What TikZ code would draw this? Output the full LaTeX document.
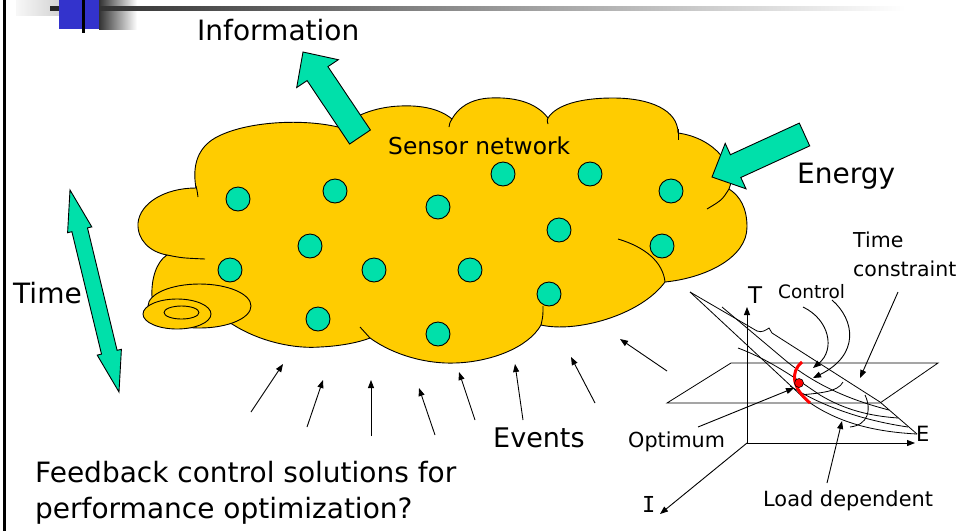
\documentclass[tikz,border=0pt]{standalone}
\usepackage{fontspec}
\setmainfont{DejaVu Sans}
\newfontfamily\axisfont{DejaVu Sans Mono}
\usetikzlibrary{arrows.meta}
\definecolor{cloudfill}{RGB}{255,204,0}
\definecolor{sensorteal}{RGB}{0,224,170}
\definecolor{slideblue}{RGB}{51,51,204}
\begin{document}
\begin{tikzpicture}[x=1pt,y=-1pt,
  cloudpart/.style={fill=cloudfill,draw=black,line width=0.9pt,line join=round},
  crease/.style={draw=black,line width=0.9pt},
  sensor/.style={circle,fill=sensorteal,draw=black,line width=0.9pt,minimum size=24pt,inner sep=0pt},
  bigarrow/.style={fill=sensorteal,draw=black,line width=0.9pt,line join=miter},
  thinarrow/.style={draw=black,line width=0.9pt,-{Triangle[length=8pt,width=6pt]}},
  graphline/.style={draw=black,line width=0.8pt},
  txt/.style={inner sep=0pt,anchor=base west},
  bigtext/.style={txt,font=\fontsize{28}{36}\selectfont},
  smalltext/.style={txt,font=\fontsize{20.5}{29}\selectfont},
]
\useasboundingbox (0,0) rectangle (960,531);
\fill[white] (0,0) rectangle (960,531);

% slide frame: corner ornament, title rule and left border
\shade[left color=black!3, right color=black!22] (16,0) rectangle (75,15);
\shade[left color=black!80, right color=white] (99,0) rectangle (137,29);
\shade[left color=black!85, middle color=black!60, right color=white] (50,6.5) rectangle (905,10);
\fill[slideblue] (59,0) rectangle (99,29);
\fill[black] (81.5,0) rectangle (84.5,33);
\fill[black] (3,0) rectangle (6,531);

% the sensor-network cloud
\path[cloudpart] (196,188)
 .. controls (165,188) and (140,203) .. (138,223)
 .. controls (137,240) and (150,252) .. (167,255)
 .. controls (156,262) and (151,280) .. (152,297)
 -- (232,324)
 .. controls (260,342) and (295,349) .. (320,347)
 .. controls (342,346) and (360,342) .. (370,338)
 .. controls (395,356) and (428,364) .. (455,363)
 .. controls (490,362) and (528,348) .. (541,325)
 .. controls (575,333) and (640,316) .. (665,282)
 .. controls (705,278) and (747,258) .. (747,227)
 .. controls (747,208) and (740,196) .. (729,189)
 .. controls (738,168) and (715,138) .. (678,133)
 .. controls (678,110) and (650,98) .. (613,98)
 .. controls (580,98) and (556,105) .. (548,118)
 .. controls (535,101) and (512,97) .. (490,98)
 .. controls (470,99) and (458,108) .. (452,119)
 .. controls (440,109) and (422,105) .. (400,106)
 .. controls (375,107) and (352,116) .. (342,128)
 .. controls (305,118) and (245,121) .. (215,138)
 .. controls (198,148) and (192,165) .. (196,188)
 -- cycle;
% inner ends of the cloud bumps
\draw[crease] (196,186) .. controls (197,190) .. (198,197);
\draw[crease] (167,255) .. controls (182,258) .. (205,259);
\draw[crease] (452,119) .. controls (450,122) .. (449,127);
\draw[crease] (548,118) .. controls (547,120) .. (548,124);
\draw[crease] (678,129) -- (678,140);
\draw[crease] (729,189) .. controls (722,200) .. (707,209);
\draw[crease] (618,239) .. controls (645,247) and (663,262) .. (665,282);
\draw[crease] (543,306) .. controls (543,316) .. (541,325);
\draw[crease] (360,327) .. controls (365,332) .. (370,338);

% rolled-up edge of the cloud
\draw[cloudpart] (199.5,306) ellipse [x radius=51.5, y radius=22];
\draw[cloudpart] (177,314) ellipse [x radius=34, y radius=15];
\draw[cloudpart] (181.5,312.5) ellipse [x radius=17.5, y radius=6.5];

% sensors
\node[sensor] (s1) at (238,199) {};
\node[sensor] (s2) at (335,191) {};
\node[sensor] (s3) at (438,207) {};
\node[sensor] (s4) at (503,174) {};
\node[sensor] (s5) at (590,174) {};
\node[sensor] (s6) at (671,191) {};
\node[sensor] (s7) at (310,246) {};
\node[sensor] (s8) at (559,230) {};
\node[sensor] (s9) at (662,246) {};
\node[sensor] (s10) at (230,270) {};
\node[sensor] (s11) at (374,270) {};
\node[sensor] (s12) at (470,270) {};
\node[sensor] (s13) at (549,294) {};
\node[sensor] (s14) at (318,319) {};
\node[sensor] (s15) at (438,334) {};

% block arrows: information out, energy in, time both ways
\draw[bigarrow] (370.4,130.0) -- (327.9,66.6) -- (338.3,59.7) -- (303,52)
  -- (296.7,87.5) -- (307.1,80.6) -- (349.6,144.0) -- cycle;
\draw[bigarrow] (809.7,145.9) -- (740.8,177.5) -- (746.0,188.8) -- (712,177)
  -- (725.2,143.4) -- (730.4,154.7) -- (799.3,123.1) -- cycle;
\draw[bigarrow] (70,190) -- (91.8,226.9) -- (87.5,227.9) -- (117.1,350.3)
  -- (121.4,349.3) -- (119,392) -- (97.2,355.1) -- (101.5,354.1)
  -- (71.9,231.7) -- (67.6,232.7) -- cycle;

% labels
\node[bigtext] (info) at (197,40) {Information};
\node[txt,font=\fontsize{23.3}{28}\selectfont] (net) at (388,154) {Sensor network};
\node[bigtext] (energy) at (797,183) {Energy};
\node[bigtext] (time) at (13,303) {Time};
\node[txt,font=\fontsize{27}{34}\selectfont] (events) at (493,447) {Events};
\node[bigtext] (q1) at (35,482) {Feedback control solutions for};
\node[bigtext] (q2) at (35,518) {performance optimization?};

% incoming events
\coordinate (ea1) at (251,412); \coordinate (eb1) at (283,364);
\coordinate (ea2) at (307,427); \coordinate (eb2) at (323,380);
\coordinate (ea3) at (371,436); \coordinate (eb3) at (371,380);
\coordinate (ea4) at (435,435); \coordinate (eb4) at (419,388);
\coordinate (ea5) at (475,420); \coordinate (eb5) at (459,372);
\coordinate (ea6) at (523,420); \coordinate (eb6) at (515,364);
\coordinate (ea7) at (595,403); \coordinate (eb7) at (571,357);
\coordinate (ea8) at (667,371); \coordinate (eb8) at (620,339);
\foreach \k in {1,...,8} \draw[thinarrow] (ea\k) -- (eb\k);

% trade-off chart: axes
\coordinate (origin) at (747,443);
\coordinate (taxis) at (747,307);
\coordinate (eaxis) at (915,443);
\coordinate (iaxis) at (660,514);
\draw[thinarrow] (origin) -- (taxis);
\draw[thinarrow] (origin) -- (eaxis);
\draw[thinarrow] (origin) -- (iaxis);
\node[txt,font=\fontsize{23}{28}\selectfont] (tlab) at (748,303) {T};
\node[txt,font=\fontsize{21}{26}\selectfont] (elab) at (916,441) {E};
\node[txt,font=\axisfont\fontsize{22}{28}\selectfont] (ilab) at (642,512) {I};

% constraint plane
\draw[graphline] (667,403) -- (880,403) -- (938,363) -- (731,363) -- cycle;

% operating surface
\draw[graphline] (690,292) -- (757,331) .. controls (762,333) and (766,330) .. (769,328)
  -- (772,333) -- (880,402) -- (917,434);
\draw[graphline] (690,292) -- (806,400) .. controls (840,425) and (880,432) .. (917,434);
\draw[graphline] (722,307) -- (785,360) .. controls (815,385) and (850,400) .. (889,410);
\draw[graphline] (738,348) .. controls (770,360) and (795,378) .. (820,395)
  .. controls (845,410) and (870,416) .. (898,418);
\draw[graphline] (790,386) .. controls (820,405) and (860,420) .. (908,427);
\draw[graphline] (800,395) .. controls (820,393) and (838,392) .. (843,382);
\draw[graphline] (865,395) .. controls (872,410) and (868,425) .. (850,427);

% control trajectory and optimum
\draw[red,line width=3pt] (802,362) .. controls (790,372) and (792,388) .. (810,403);
\node[circle,fill=red,draw=black,line width=0.6pt,minimum size=9pt,inner sep=0pt] (opt) at (799,383) {};

% chart annotations
\node[txt,font=\fontsize{18.5}{24}\selectfont] (ctrl) at (778,298) {Control};
\node[smalltext] (tc1) at (853,247) {Time};
\node[smalltext] (tc2) at (853,276) {constraint};
\node[txt,font=\fontsize{20.7}{26}\selectfont] (optlab) at (628,447) {Optimum};
\node[txt,font=\fontsize{20.9}{26}\selectfont] (load) at (763,506) {Load dependent};

\coordinate (c1a) at (803,307); \coordinate (c1b) at (813,368);
\coordinate (c2a) at (832,300); \coordinate (c2b) at (813,378);
\coordinate (tca) at (898,292); \coordinate (tcb) at (860,378);
\coordinate (lda) at (827,483); \coordinate (ldb) at (842,421);
\coordinate (opa) at (698,427); \coordinate (opb) at (794,388);
\draw[thinarrow] (c1a) .. controls (830,320) and (835,350) .. (c1b);
\draw[thinarrow] (c2a) .. controls (855,320) and (860,355) .. (c2b);
\draw[thinarrow] (tca) -- (tcb);
\draw[thinarrow] (lda) -- (ldb);
\draw[thinarrow] (opa) -- (opb);
\end{tikzpicture}
\end{document}
